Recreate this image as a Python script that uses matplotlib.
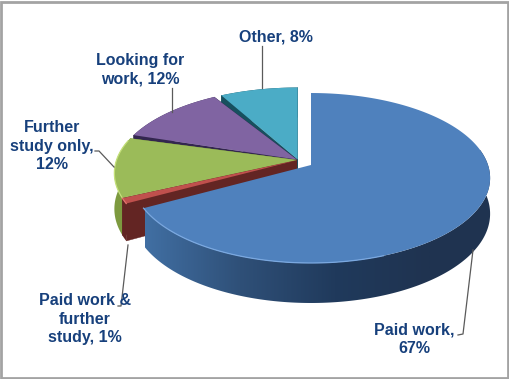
import numpy as np
import matplotlib
matplotlib.use("Agg")
import matplotlib.pyplot as plt
from matplotlib.patches import Polygon, Rectangle
from matplotlib.colors import LinearSegmentedColormap

# Data
categories = ["Paid work", "Paid work & further study", "Further study only", "Looking for work", "Other"]
values = [67, 1, 12, 12, 8]
labels = ["Paid work,\n67%", "Paid work &\nfurther\nstudy, 1%", "Further\nstudy only,\n12%", "Looking for\nwork, 12%", "Other, 8%"]
top_colors = ["#4f81bd", "#c0504d", "#9bbb59", "#8064a2", "#4bacc6"]
wall_colors = ["#2d4c73", "#632523", "#7d9a3f", "#33264f", "#17505e"]
rim_colors = ["#7aa8e0", "#e57470", "#c4e07a", "#a58bc7", "#78d3e8"]

# Projection / layout
W, H = 510, 379
PERSP, A = 0.153, 83.0
RADII = [177.0, 180.0, 180.0, 180.0, 180.0]
EXPLODE = [0.0, 0.008, 0.008, 0.008, 0.008]
GAP_END = [0.0, 0.0, 0.04, 0.045, 0.0]   # radians trimmed at a slice's trailing edge
APEX = [(311, 165), (298, 160), (298, 160), (298, 160), (298, 160)]
TXT = "#17407c"

fig = plt.figure(figsize=(W / 100, H / 100), dpi=100)
ax = fig.add_axes([0, 0, 1, 1])
ax.axis("off")
ax.add_patch(Rectangle((1, 1.5), W - 2.5, H - 3, fc="white", ec="#a3a3a3", lw=2))
cmap = LinearSegmentedColormap.from_list("wall", ["#416fa3", "#2f5078", "#203a5c", "#1f3350"])


def project(u, v, apex, rx, depth=False):
    k = 1 + PERSP * v
    x = apex[0] + rx * u / k
    y = apex[1] - A * v / k
    if depth:
        y = y + 35 - 5 * v
    return x, y


def pts(ang, r, off, apex, rx, depth=False):
    return np.array(project(off[0] + r * np.cos(ang), off[1] + r * np.sin(ang), apex, rx, depth)).T


fractions = np.array(values) / sum(values)
ends = np.cumsum(fractions)
starts = ends - fractions
for i in [4, 3, 2, 1, 0]:
    a0 = np.pi / 2 - 2 * np.pi * starts[i]
    a1 = np.pi / 2 - 2 * np.pi * ends[i] + GAP_END[i]
    mid = (a0 + a1) / 2
    off = (EXPLODE[i] * np.cos(mid), EXPLODE[i] * np.sin(mid))
    ap = APEX[i]
    rx = RADII[i]
    ang = np.linspace(a0, a1, max(int(abs(a1 - a0) * 60), 8))
    rim = pts(ang, 1, off, ap, rx)
    rim_low = pts(ang, 1, off, ap, rx, True)
    c = pts(np.array([0.0]), 0, off, ap, rx)[0]
    c_low = pts(np.array([0.0]), 0, off, ap, rx, True)[0]
    if i != 0:
        ax.add_patch(Polygon([c, rim[0], rim_low[0], c_low], fc=wall_colors[i], ec=wall_colors[i], lw=0.3))
        ax.add_patch(Polygon([c, rim[-1], rim_low[-1], c_low], fc=wall_colors[i], ec=wall_colors[i], lw=0.3))
    wall = Polygon(np.vstack([rim, rim_low[::-1]]), fc=wall_colors[i], ec="none")
    ax.add_patch(wall)
    if i == 0:
        wall.set_facecolor("none")
        im = ax.imshow(np.linspace(0, 1, 256)[None, :], cmap=cmap, extent=(145, 430, 320, 150),
                       aspect="auto", zorder=wall.get_zorder())
        im.set_clip_path(wall)
        im2 = ax.imshow(np.array([[1.0, 1.0]]), cmap=cmap, vmin=0, vmax=1, extent=(430, 500, 320, 150),
                        aspect="auto", zorder=wall.get_zorder())
        im2.set_clip_path(wall)
    ax.add_patch(Polygon(np.vstack([[c], rim]), fc=top_colors[i], ec="none", zorder=2))
    if i == 0:
        front = (np.sin(ang) < -0.45) & (np.cos(ang) < 0.35)
    else:
        front = np.sin(ang) < 0.25
    ax.plot(rim[front, 0], rim[front, 1], color=rim_colors[i], lw=0.9, zorder=2.1)

# Leader lines
lc = "#5a5a5a"
ax.plot([458, 463, 473], [335, 334, 250], color=lc, lw=0.9, zorder=3)
ax.plot([118, 121, 128], [306, 306, 245], color=lc, lw=0.9, zorder=3)
ax.plot([95, 99, 114], [151, 151, 167], color=lc, lw=0.9, zorder=3)
ax.plot([172, 172], [88, 112], color=lc, lw=0.9, zorder=3)
ax.plot([262, 262], [46, 88], color=lc, lw=0.9, zorder=3)

# Labels
font = dict(family="Liberation Sans", weight="bold", color=TXT, fontsize=11.5,
            ha="center", va="center", linespacing=1.27, zorder=4)
ax.text(414, 339, labels[0], **font)
ax.text(85, 319, labels[1], **font)
ax.text(52, 146, labels[2], **font)
ax.text(140, 70, labels[3], **font)
ax.text(276, 37, labels[4], **font)

ax.set_xlim(0, W)
ax.set_ylim(H, 0)
fig.savefig("out.png", dpi=100)
